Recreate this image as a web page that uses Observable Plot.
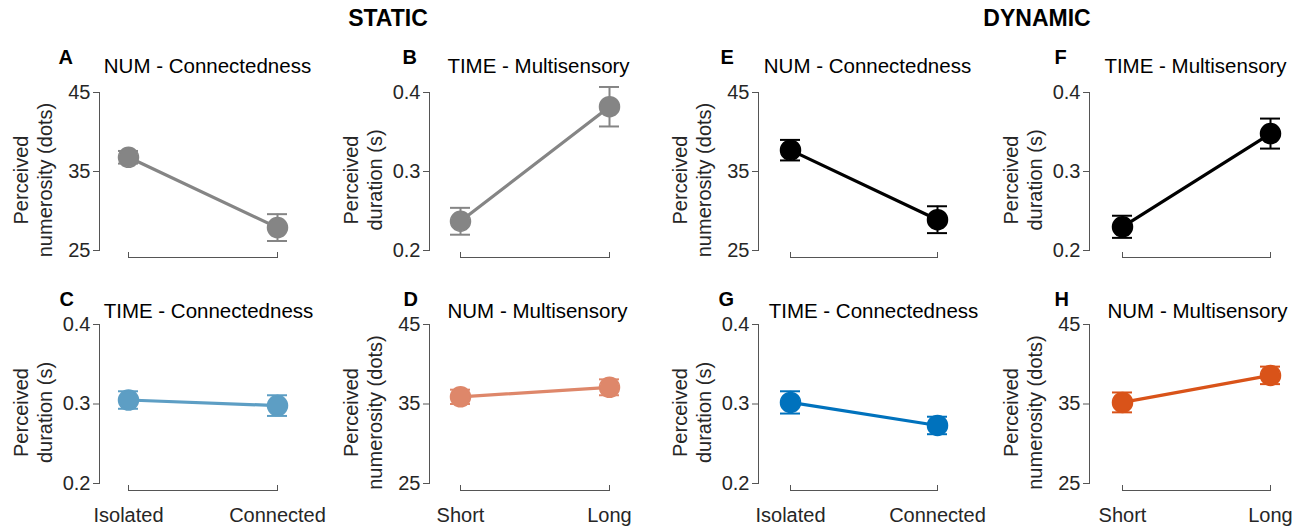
<!DOCTYPE html>
<html><head><meta charset="utf-8">
<script src="https://cdn.jsdelivr.net/npm/d3@7"></script>
<script src="https://cdn.jsdelivr.net/npm/@observablehq/plot@0.6"></script>
<style>
html,body{margin:0;padding:0;background:#fff;overflow:hidden;}
#fig{position:relative;width:1305px;height:526px;font-family:"Liberation Sans",Arial,sans-serif;}
.hdr{position:absolute;top:7px;font-weight:bold;font-size:23px;line-height:23px;color:#000;transform:translateX(-50%);white-space:nowrap;}
.panel{position:absolute;}
</style></head><body><div id="fig"></div>
<script>
// ---------------- data ----------------
const headers = ["STATIC", "DYNAMIC"];
const panelLetters = ["A", "B", "C", "D", "E", "F", "G", "H"];
const panelTitles = ["NUM - Connectedness", "TIME - Multisensory", "TIME - Connectedness", "NUM - Multisensory",
                     "NUM - Connectedness", "TIME - Multisensory", "TIME - Connectedness", "NUM - Multisensory"];
const connCategories = ["Isolated", "Connected"];
const multiCategories = ["Short", "Long"];
const panelCategories = [connCategories, multiCategories, connCategories, multiCategories,
                         connCategories, multiCategories, connCategories, multiCategories];
const meanValues = [[36.8, 27.9], [0.237, 0.382], [0.305, 0.298], [35.9, 37.1],
                    [37.7, 28.9], [0.230, 0.348], [0.302, 0.273], [35.2, 38.6]];
const semValues  = [[0.8, 1.7], [0.017, 0.025], [0.011, 0.013], [0.9, 1.0],
                    [1.3, 1.7], [0.014, 0.019], [0.014, 0.011], [1.25, 1.1]];
const numLabel = "Perceived\nnumerosity (dots)";
const timeLabel = "Perceived\nduration (s)";
const yLabels = [numLabel, timeLabel, timeLabel, numLabel, numLabel, timeLabel, timeLabel, numLabel];
const numTicks = [25, 35, 45];
const timeTicks = [0.2, 0.3, 0.4];
const yTickSets = [numTicks, timeTicks, timeTicks, numTicks, numTicks, timeTicks, timeTicks, numTicks];
const panelColors = ["#858585", "#858585", "#5d9ec4", "#de876a", "#000000", "#000000", "#0072bd", "#d95319"];

// ---------------- layout ----------------
const colLayout = [{ax: 99, x1: 128, x2: 277}, {ax: 429, x1: 460, x2: 609},
                   {ax: 758, x1: 790, x2: 937}, {ax: 1089, x1: 1122, x2: 1270}];
const rowLayout = [{top: 40, height: 230, yTop: 92, yBot: 250, xLine: 257, titleY: 72, letterY: 63},
                   {top: 280, height: 246, yTop: 324, yBot: 483, xLine: 490, titleY: 317, letterY: 305}];
const panelCol = [0, 1, 0, 1, 2, 3, 2, 3];
const panelRow = [0, 0, 1, 1, 0, 0, 1, 1];
const letterX = [58, 402, 59, 403, 720, 1054, 718, 1054];
const titleX = [207, 538, 208, 537, 867, 1195, 873, 1197];
const headerX = [388, 1037];
const axisColor = "#555555";
const textColor = "#262626";

const fig = document.getElementById("fig");
headers.forEach((h, i) => {
  const d = document.createElement("div");
  d.className = "hdr";
  d.style.left = headerX[i] + "px";
  d.textContent = h;
  fig.appendChild(d);
});

panelLetters.forEach((letter, i) => {
  const c = colLayout[panelCol[i]], r = rowLayout[panelRow[i]];
  const SL = c.ax - 99, W = 330;
  const marginLeft = 99;
  const marginRight = W - (c.x2 - SL);
  const marginTop = r.yTop - r.top;
  const marginBottom = r.height - (r.xLine - r.top);
  const ticks = yTickSets[i];
  const cats = panelCategories[i];
  const rows = cats.map((cat, j) => ({cond: cat, mean: meanValues[i][j], sem: semValues[i][j]}));
  const color = panelColors[i];
  const frameLeftAbs = SL + marginLeft;
  const frameTopAbs = r.top + marginTop;

  const marks = [
    Plot.frame({anchor: "left", insetBottom: r.xLine - r.yBot, stroke: axisColor, strokeWidth: 1}),
    Plot.frame({anchor: "bottom", insetLeft: c.x1 - c.ax, stroke: axisColor, strokeWidth: 1}),
    Plot.axisY({ticks, tickSize: 6, tickPadding: 3, fontSize: 20, label: null, stroke: axisColor, fill: textColor,
                tickFormat: d => `${d}`}),
    Plot.axisX({tickSize: 5, dy: -5, tickFormat: () => "", label: null, stroke: axisColor}),
    Plot.line(rows, {x: "cond", y: "mean", stroke: color, strokeWidth: 3.2}),
    Plot.ruleX(rows, {x: "cond", y1: d => d.mean - d.sem, y2: d => d.mean + d.sem, stroke: color, strokeWidth: 2}),
    Plot.ruleY(rows, {y: d => d.mean - d.sem, x1: "cond", x2: "cond", insetLeft: -10, insetRight: -10, stroke: color, strokeWidth: 2}),
    Plot.ruleY(rows, {y: d => d.mean + d.sem, x1: "cond", x2: "cond", insetLeft: -10, insetRight: -10, stroke: color, strokeWidth: 2}),
    Plot.dot(rows, {x: "cond", y: "mean", r: 10, fill: color, stroke: color}),
    Plot.text([letter], {frameAnchor: "top-left", text: d => d, dx: letterX[i] - frameLeftAbs, dy: r.letterY - frameTopAbs,
                         textAnchor: "start", lineAnchor: "bottom", fontWeight: "bold", fontSize: 20, fill: "#000"}),
    Plot.text([panelTitles[i]], {frameAnchor: "top-left", text: d => d, dx: titleX[i] - frameLeftAbs, dy: r.titleY - frameTopAbs,
                         textAnchor: "middle", lineAnchor: "bottom", fontSize: 20.5, fill: "#000"}),
    Plot.text([yLabels[i]], {frameAnchor: "left", text: d => d, rotate: -90, dx: -67, dy: 5, lineHeight: 1.2,
                         textAnchor: "middle", lineAnchor: "middle", fontSize: 20, fill: textColor})
  ];
  if (panelRow[i] === 1) {
    marks.push(Plot.axisX({tickSize: 0, tickPadding: 17, fontSize: 20, label: null, fill: textColor}));
  }

  const chart = Plot.plot({
    width: W,
    height: r.height,
    marginLeft, marginRight, marginTop, marginBottom,
    style: "font-family: 'Liberation Sans', Arial, sans-serif; background: transparent; overflow: visible; max-width: none; color: #262626;",
    x: {type: "point", domain: cats, padding: 0, range: [c.x1 - SL, c.x2 - SL]},
    y: {domain: [ticks[0], ticks[2]], range: [r.yBot - r.top, r.yTop - r.top]},
    marks
  });
  const wrap = document.createElement("div");
  wrap.className = "panel";
  wrap.style.left = SL + "px";
  wrap.style.top = r.top + "px";
  wrap.appendChild(chart);
  fig.appendChild(wrap);
});
</script></body></html>
